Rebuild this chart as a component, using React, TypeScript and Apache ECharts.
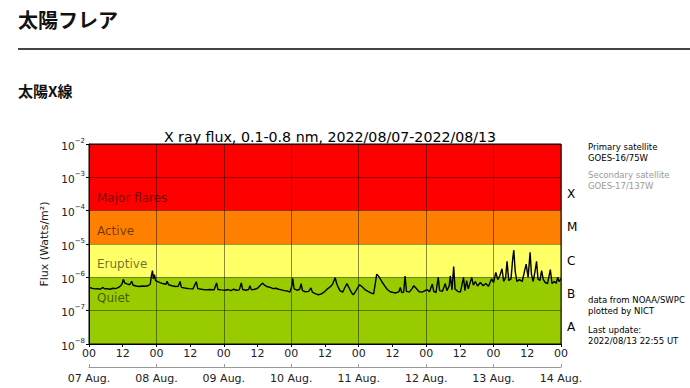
import React, { useEffect, useRef } from "react";
import * as echarts from "echarts";

// ---- data ----
const pageTitle = "太陽フレア";
const sectionTitle = "太陽X線";
const chartTitle = "X ray flux, 0.1-0.8 nm, 2022/08/07-2022/08/13";
const dateLabels = ["07 Aug.", "08 Aug.", "09 Aug.", "10 Aug.", "11 Aug.", "12 Aug.", "13 Aug.", "14 Aug."];
const bandNames = ["Major flares", "Active", "Eruptive", "Quiet"];
const bandLabelRanges = [[1e-4, 1e-3], [1e-5, 1e-4], [1e-6, 1e-5], [1e-7, 1e-6]];
const bandRanges = [[1e-4, 1e-2], [1e-5, 1e-4], [1e-6, 1e-5], [1e-8, 1e-6]];
const bandColors = ["#ff0000", "#ff8000", "#ffff66", "#99cc00"];
const classLetters = ["X", "M", "C", "B", "A"];
const classRanges = [[1e-4, 1e-3], [1e-5, 1e-4], [1e-6, 1e-5], [1e-7, 1e-6], [1e-8, 1e-7]];
const infoTop = ["Primary satellite", "GOES-16/75W"];
const infoSecondary = ["Secondary satellite", "GOES-17/137W"];
const infoSource = ["data from NOAA/SWPC", "plotted by NICT"];
const infoUpdate = ["Last update:", "2022/08/13 22:55 UT"];

// [hours since 2022-08-07 00 UT, flux W/m^2]
const xrayFlux: [number, number][] = [
  [0, 5.0e-7], [1, 4.7e-7], [2, 4.5e-7], [3, 4.6e-7], [4, 4.4e-7], [5, 5.0e-7], [5.5, 4.5e-7], [6.5, 4.6e-7],
  [7.5, 4.4e-7], [8.5, 4.7e-7], [9.5, 4.6e-7], [10.5, 5.0e-7], [11.3, 5.6e-7], [11.8, 6.5e-7], [12.2, 8.7e-7],
  [12.7, 6.8e-7], [13.5, 6.4e-7], [14.5, 6.0e-7], [15.2, 7.6e-7], [15.7, 5.8e-7], [16.8, 5.5e-7], [18, 5.3e-7],
  [19, 5.5e-7], [20, 5.4e-7], [21, 5.6e-7], [21.8, 6.2e-7], [22.2, 1.1e-6], [22.6, 1.6e-6], [22.9, 9.0e-7],
  [23.3, 1.2e-6], [23.7, 8.0e-7], [24.5, 7.4e-7], [25.5, 6.8e-7], [26.5, 6.4e-7], [27.4, 6.2e-7], [27.8, 7.6e-7],
  [28.3, 6.0e-7], [29.5, 5.6e-7], [30.8, 5.3e-7], [31.8, 5.4e-7], [32.4, 7.5e-7], [32.9, 5.0e-7], [34, 4.8e-7],
  [35.5, 4.6e-7], [37, 4.5e-7], [38.2, 7.4e-7], [38.7, 4.6e-7], [40, 4.4e-7], [41.5, 4.2e-7], [43, 4.3e-7],
  [44.5, 4.2e-7], [45.4, 6.8e-7], [45.9, 4.3e-7], [47, 4.2e-7], [48.5, 4.1e-7], [49.5, 4.3e-7], [50.5, 4.0e-7],
  [51.5, 4.4e-7], [52.5, 4.1e-7], [53.5, 4.2e-7], [54.2, 6.8e-7], [54.7, 4.3e-7], [55.8, 4.1e-7], [56.8, 4.3e-7],
  [57.3, 5.6e-7], [57.8, 4.2e-7], [59, 4.4e-7], [60, 4.7e-7], [61, 5.8e-7], [61.8, 6.7e-7], [62.5, 5.8e-7],
  [63.5, 5.2e-7], [64.5, 5.0e-7], [65.5, 4.6e-7], [66.5, 4.7e-7], [67.5, 4.4e-7], [68.5, 4.2e-7], [69.5, 4.0e-7],
  [70.5, 3.9e-7], [71.5, 3.6e-7], [72.2, 5.5e-7], [72.5, 9.3e-7], [73, 4.5e-7], [74, 4.1e-7], [75, 4.4e-7],
  [75.5, 6.5e-7], [76, 4.0e-7], [77, 3.7e-7], [78.2, 3.8e-7], [79, 4.8e-7], [79.5, 3.6e-7], [80.7, 3.2e-7],
  [81.7, 3.0e-7], [82.7, 3.2e-7], [84, 3.8e-7], [85, 4.6e-7], [86, 5.3e-7], [86.8, 6.5e-7], [87.6, 9.7e-7],
  [88.3, 6.0e-7], [89.3, 4.0e-7], [90.3, 3.6e-7], [91, 4.8e-7], [91.8, 6.5e-7], [92.7, 4.6e-7], [93.5, 3.4e-7],
  [94.1, 3.0e-7], [95.2, 4.2e-7], [96.3, 6.0e-7], [97.2, 5.2e-7], [98.2, 4.3e-7], [99.3, 3.8e-7], [100.3, 3.4e-7],
  [101.3, 3.2e-7], [101.9, 6.5e-7], [102.4, 1.25e-6], [103.2, 1.05e-6], [104.2, 7.5e-7], [105.2, 5.6e-7],
  [106.2, 4.3e-7], [107.2, 3.7e-7], [108.3, 3.5e-7], [109.3, 3.4e-7], [110.3, 3.7e-7], [110.8, 5.0e-7],
  [111.3, 3.5e-7], [112.0, 3.6e-7], [112.5, 1.1e-6], [113.0, 3.8e-7], [114, 3.6e-7], [115, 4.6e-7],
  [115.6, 5.6e-7], [116.5, 4.6e-7], [117.5, 3.7e-7], [118.5, 3.6e-7], [119.5, 3.9e-7], [120.3, 4.3e-7],
  [121.2, 3.7e-7], [122.2, 6.3e-7], [122.7, 3.8e-7], [123.5, 3.5e-7], [124.3, 1.0e-6], [124.8, 4.0e-7],
  [125.8, 3.8e-7], [126.8, 6.5e-7], [127.4, 4.0e-7], [128.2, 5.5e-7], [128.6, 1.1e-6], [129.2, 4.2e-7],
  [129.8, 2.1e-6], [130.3, 4.5e-7], [131.2, 3.8e-7], [132.2, 3.6e-7], [133.3, 1.0e-6], [133.8, 4.0e-7],
  [134.4, 8.0e-7], [135, 4.5e-7], [136.2, 1.0e-6], [136.8, 5.8e-7], [137.5, 7.5e-7], [138.3, 5.5e-7],
  [139.3, 7.0e-7], [140.3, 5.6e-7], [141.2, 6.5e-7], [142.2, 5.4e-7], [143.3, 9.0e-7], [144, 7.0e-7],
  [144.8, 1.4e-6], [145.5, 8.5e-7], [146.2, 1.1e-6], [147, 1.8e-6], [147.6, 7.5e-7], [148.3, 1.0e-6],
  [148.8, 3.0e-6], [149.4, 8.0e-7], [150.2, 9.0e-7], [150.8, 3.5e-6], [151.2, 6.6e-6], [151.7, 1.5e-6],
  [152.3, 7.5e-7], [153.2, 8.5e-7], [154.2, 7.5e-7], [155, 1.5e-6], [155.6, 2.5e-6], [156.3, 1.0e-6],
  [157, 5.6e-6], [157.5, 1.2e-6], [158.1, 7.5e-7], [158.8, 1.6e-6], [159.3, 3.0e-6], [159.8, 9.0e-7],
  [160.5, 8.0e-7], [161.1, 1.6e-6], [161.7, 8.5e-7], [162.4, 7.0e-7], [163.2, 6.5e-7], [164.2, 1.7e-6],
  [164.8, 6.5e-7], [165.6, 7.5e-7], [166.3, 6.6e-7], [166.8, 1.0e-6], [167.3, 7.5e-7], [168, 9.0e-7],
];

const FONT = "DejaVu Sans";
const CJK = "'Noto Sans CJK JP', sans-serif";

export default function App() {
  const ref = useRef<HTMLDivElement>(null);
  useEffect(() => {
    if (!ref.current) return;
    const chart = echarts.init(ref.current, null, { renderer: "svg" });

    const infoText = (lines: string[], top: number, color: string) =>
      lines.map((t, i) => ({
        type: "text",
        left: 588,
        top: top + i * 11,
        style: { text: t, fill: color, font: `8.5px ${FONT}` },
      }));

    chart.setOption({
      animation: false,
      backgroundColor: "#fff",
      title: {
        text: chartTitle,
        left: 325,
        textAlign: "center",
        top: 125,
        textStyle: { fontFamily: FONT, fontSize: 14.2, fontWeight: "normal", color: "#000" },
      },
      grid: {
        left: 89,
        top: 144,
        width: 472,
        height: 200,
        show: true,
        backgroundColor: "transparent",
        borderColor: "#000",
        borderWidth: 1,
        z: 3,
      },
      xAxis: [
        {
          type: "value",
          min: 0,
          max: 168,
          interval: 12,
          position: "bottom",
          z: 3,
          axisLine: { show: true, lineStyle: { color: "#000" } },
          axisTick: { show: true, length: 3, lineStyle: { color: "#000" } },
          axisLabel: {
            fontFamily: FONT,
            fontSize: 11,
            color: "#222",
            margin: 4,
            formatter: (v: number) => (v % 24 === 0 ? "00" : "12"),
          },
          splitLine: { show: false },
        },
        {
          type: "value",
          min: 0,
          max: 168,
          interval: 24,
          position: "bottom",
          offset: 23,
          z: 3,
          axisLine: { show: true, lineStyle: { color: "#999" } },
          axisTick: { show: true, length: 3, inside: true, lineStyle: { color: "#999" } },
          axisLabel: {
            fontFamily: FONT,
            fontSize: 11,
            color: "#222",
            margin: 6,
            formatter: (v: number) => dateLabels[Math.round(v / 24)] ?? "",
          },
          splitLine: { show: true, lineStyle: { color: "rgba(0,0,0,0.45)", width: 1 } },
        },
      ],
      yAxis: {
        type: "log",
        logBase: 10,
        min: 1e-8,
        max: 1e-2,
        interval: 1,
        z: 3,
        name: "Flux (Watts/m²)",
        nameLocation: "middle",
        nameGap: 36,
        nameTextStyle: { fontFamily: FONT, fontSize: 11, color: "#222" },
        axisLine: { show: true, lineStyle: { color: "#000" } },
        axisTick: { show: true, length: 3, lineStyle: { color: "#000" } },
        axisLabel: {
          margin: 4,
          formatter: (v: number) => `{b|10}{s|${"\u2212"}${Math.round(-Math.log10(v))}}`,
          rich: {
            b: { fontFamily: FONT, fontSize: 10.5, color: "#222", lineHeight: 14, verticalAlign: "bottom" },
            s: { fontFamily: FONT, fontSize: 7, color: "#222", lineHeight: 8, verticalAlign: "top" },
          },
        },
        splitLine: { show: true, lineStyle: { color: "rgba(0,0,0,0.4)", width: 1 } },
      },
      series: [
        {
          type: "line",
          data: [],
          z: 1,
          silent: true,
          markArea: {
            silent: true,
            data: bandRanges.map((r, i) => [
              { yAxis: r[0], itemStyle: { color: bandColors[i], opacity: 1 } },
              { yAxis: r[1] },
            ]),
          },
        },
        {
          type: "line",
          data: [],
          z: 2,
          silent: true,
          markArea: {
            silent: true,
            itemStyle: { color: "transparent" },
            label: {
              show: true,
              position: "insideLeft",
              distance: 8,
              offset: [0, 3.5],
              fontFamily: FONT,
              fontSize: 12,
              color: "rgba(0,0,0,0.58)",
            },
            data: bandLabelRanges.map((r, i) => [{ yAxis: r[0], name: bandNames[i] }, { yAxis: r[1] }]),
          },
        },
        {
          type: "line",
          data: [],
          z: 2,
          silent: true,
          markArea: {
            silent: true,
            itemStyle: { color: "transparent" },
            label: {
              show: true,
              position: "right",
              distance: 6,
              fontFamily: FONT,
              fontSize: 12,
              color: "#000",
            },
            data: classRanges.map((r, i) => [{ yAxis: r[0], name: classLetters[i] }, { yAxis: r[1] }]),
          },
        },
        {
          type: "line",
          data: xrayFlux,
          z: 5,
          showSymbol: false,
          symbol: "none",
          lineStyle: { color: "#000", width: 1.4 },
        },
      ],
      graphic: [
        {
          type: "text",
          left: 18,
          top: 9,
          style: { text: pageTitle, fill: "#111", font: `bold 20px ${CJK}` },
        },
        {
          type: "line",
          shape: { x1: 18, y1: 49, x2: 690, y2: 49 },
          style: { stroke: "#444", lineWidth: 2 },
        },
        {
          type: "text",
          left: 18,
          top: 83,
          style: { text: sectionTitle, fill: "#111", font: `bold 15px ${CJK}` },
        },
        ...infoText(infoTop, 142, "#000"),
        ...infoText(infoSecondary, 170, "#999"),
        ...infoText(infoSource, 295, "#000"),
        ...infoText(infoUpdate, 325, "#000"),
      ],
    });
    return () => chart.dispose();
  }, []);
  return (
    <div
      ref={ref}
      style={{ position: "fixed", left: 0, top: 0, width: 690, height: 388, background: "#fff" }}
    />
  );
}
